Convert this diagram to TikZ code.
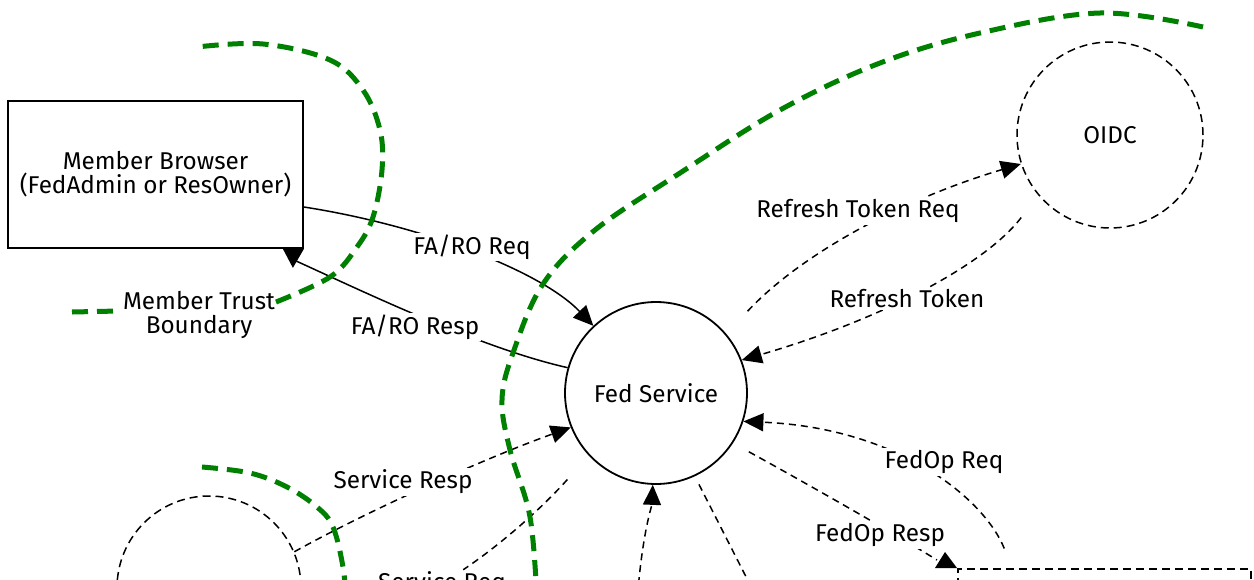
\documentclass[tikz,border=0pt]{standalone}
\usepackage{fontspec}
\setmainfont{Fira Sans}
\usetikzlibrary{arrows.meta}
\definecolor{bgreen}{RGB}{0,128,0}
\begin{document}
\begin{tikzpicture}[x=1pt,y=-1pt,
  every node/.style={font=\fontsize{24.3}{24}\selectfont},
  proc/.style={circle,draw,line width=1.8pt,inner sep=0pt},
  extproc/.style={circle,draw,line width=1.5pt,dash pattern=on 8pt off 5pt,inner sep=0pt},
  lbl/.style={fill=white,inner sep=2pt},
  sline/.style={line width=1.5pt},
  dline/.style={line width=1.5pt,dash pattern=on 7pt off 5pt},
  tip/.style={-{Triangle[length=20pt,width=18pt]}},
  boundary/.style={draw=bgreen,line width=5pt,dash pattern=on 16pt off 9pt}
]
\clip (0,0) rectangle (1254,579);
\fill[white] (0,0) rectangle (1254,579);

% processes and external entities
\node[draw,line width=1.8pt,minimum width=295pt,minimum height=147pt,align=center] (mb) at (155.5,174.5)
  {Member Browser\\(FedAdmin or ResOwner)};
\node[proc,minimum size=182pt] (fed) at (656,393) {Fed Service};
\node[extproc,minimum size=186pt] (oidc) at (1110,135) {OIDC};
\node[extproc,minimum size=184pt] (ext) at (209,588) {};
\node[draw,line width=1.5pt,dash pattern=on 8pt off 5pt,minimum width=293pt,minimum height=120pt,anchor=north west] (fop) at (957,568) {};
\coordinate (bsrc) at (636,620);
\coordinate (bdst) at (768,620);

% data flows
\draw[sline,tip] ([yshift=-32.5pt]mb.east) .. controls (420,225) and (540,270) .. (fed.133);
\draw[sline] (fed.164) .. controls (480,348) and (360,290) .. ([shift={(-8pt,-12pt)}]mb.south east);
\fill (mb.south east) -- ++(-21pt,0pt) -- ++(10pt,-19pt) -- cycle;

\draw[dline,tip,shorten <=31pt] (fed.40) .. controls (800,255) and (900,200) .. (oidc.198);
\draw[dline,tip,shorten <=28pt] (oidc.220) .. controls (985,265) and (880,320) .. (fed.21);

\draw[dline,tip,shorten <=21pt] ([xshift=55pt]fop.north west) .. controls (985,500) and (900,428) .. (fed.-18);
\draw[dline,shorten <=18pt] (fed.-33) .. controls (800,480) and (880,525) .. ([shift={(-20pt,8pt)}]fop.north west);
\fill (fop.north west) -- ++(-22pt,0pt) -- ++(10pt,16pt) -- cycle;

\draw[dline,tip] (ext.23) .. controls (360,515) and (480,460) .. (fed.202);
\node[lbl] (sreq) at (442,584) {Service Req};
\draw[dline,shorten <=32pt] (fed.223) .. controls (540,510) and (500,545) .. (sreq);

\draw[dline,tip] (bsrc) .. controls (640,540) and (652,505) .. (fed.-92);
\draw[dline,shorten <=9pt] (fed.-65) -- (bdst);

% flow labels
\node[lbl] (l1) at (472,247) {FA/RO Req};
\node[lbl] (l2) at (415,327) {FA/RO Resp};
\node[lbl] (l3) at (858,211) {Refresh Token Req};
\node[lbl] (l4) at (907,299) {Refresh Token};
\node[lbl] (l5) at (944,462) {FedOp Req};
\node[lbl] (l6) at (880,535) {FedOp Resp};
\node[lbl] (l7) at (403,482) {Service Resp};

% trust boundaries
\draw[boundary] (72,312) -- (119,311);
\node[align=center,inner sep=1pt] (tb) at (199,315) {Member Trust\\Boundary};
\draw[boundary] plot[smooth,tension=0.6] coordinates {(276,302) (330,277) (357,247) (373,217) (382,170) (380,130) (363,90) (330,60) (263,44) (197,47)};
\draw[boundary] plot[smooth,tension=0.6] coordinates {(1203,27) (1100,13) (980,33) (880,63) (780,110) (680,173) (595,230) (543,284) (513,353) (502,400) (510,450) (530,517) (537,600)};
\draw[boundary] plot[smooth,tension=0.6] coordinates {(202,467) (250,473) (287,487) (317,507) (333,527) (343,567) (346,600)};
\end{tikzpicture}
\end{document}
